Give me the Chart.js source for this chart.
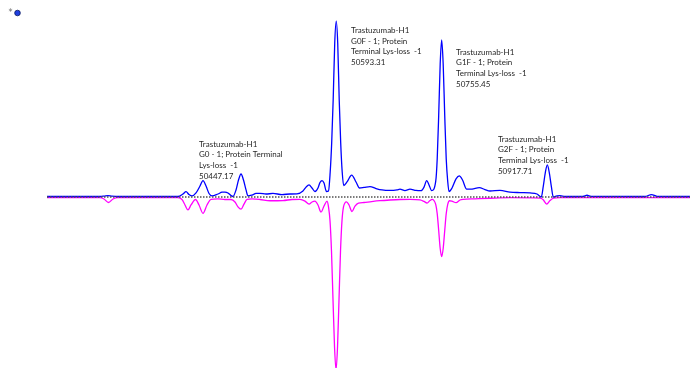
<!DOCTYPE html>
<html>
<head>
<meta charset="utf-8">
<script src="https://cdn.jsdelivr.net/npm/chart.js@4.4.1/dist/chart.umd.min.js"></script>
<style>
  html, body { margin: 0; padding: 0; background: #fff; }
  #wrap { width: 696px; height: 368px; position: relative; }
</style>
</head>
<body>
<div id="wrap"><canvas id="spec" width="696" height="368"></canvas></div>
<script>
// deconvoluted mass (Da) and relative intensity (%) of the upper trace
const upperMass = [
    50150, 50231.6, 50237.8, 50243.9, 50250.1, 50259.3, 50351.7, 50359.4, 50364.1, 50368.7,
    50373.3, 50379.5, 50385.6, 50390.2, 50394.9, 50399.5, 50404.1, 50413.3, 50419.5, 50424.1,
    50428.7, 50433.4, 50436.4, 50441.1, 50444.9, 50448.8, 50452.6, 50456.5, 50459.5, 50465.7,
    50471.9, 50478.0, 50487.3, 50498.0, 50511.9, 50524.2, 50535.0, 50544.2, 50548.9, 50553.5,
    50558.1, 50562.7, 50567.3, 50570.4, 50573.5, 50576.6, 50580.4, 50583.5, 50586.1, 50588.4,
    50590.7, 50593.1, 50595.4, 50597.7, 50600.0, 50602.3, 50604.6, 50606.9, 50612.0, 50619.2,
    50625.9, 50631.3, 50638.2, 50647.4, 50656.7, 50665.9, 50678.2, 50689.0, 50693.6, 50701.3,
    50709.0, 50718.3, 50726.0, 50730.6, 50734.7, 50738.3, 50742.4, 50748.6, 50750.9, 50753.2,
    50755.5, 50757.8, 50760.1, 50762.5, 50764.8, 50767.1, 50769.1, 50773.7, 50779.9, 50784.9,
    50789.9, 50796.3, 50804.5, 50815.7, 50824.5, 50832.2, 50847.6, 50863.0, 50878.4, 50893.8,
    50904.6, 50911.2, 50914.3, 50917.4, 50920.5, 50923.5, 50926.6, 50929.7, 50935.4, 50940.0,
    50947.7, 50975.4, 50981.6, 50987.8, 51070.9, 51080.9, 51089.4, 51140.2,
];
const upperIntensity = [
    0.3, 0.3, 0.5, 0.8, 0.5, 0.3, 0.3, 1.7, 3.0, 1.4,
    0.6, 2.3, 6.2, 9.3, 6.2, 2.0, 0.6, 1.7, 2.7, 2.8,
    2.3, 0.8, 0.3, 4.0, 9.6, 13.0, 9.6, 4.0, 0.6, 1.1,
    2.0, 2.1, 1.7, 2.0, 1.4, 1.7, 1.8, 3.4, 5.6, 6.8,
    5.1, 3.1, 5.1, 8.2, 9.3, 7.9, 3.1, 3.4, 14.1, 30.5,
    54.8, 87.0, 99.4, 87.0, 54.8, 30.5, 14.1, 6.5, 8.5, 12.4,
    8.5, 5.1, 5.4, 5.9, 4.8, 4.0, 3.7, 4.0, 4.4, 3.6,
    4.4, 3.7, 3.6, 5.6, 9.2, 6.8, 3.6, 8.8, 21.5, 46.0,
    75.1, 88.7, 75.1, 46.0, 21.5, 8.8, 3.1, 5.1, 10.2, 11.9,
    9.6, 4.4, 4.5, 5.3, 4.2, 3.4, 3.7, 2.8, 2.5, 2.3,
    1.7, 0.0, 6.2, 13.8, 18.1, 13.8, 6.2, 0.0, 0.7, 0.8,
    0.3, 0.4, 1.0, 0.4, 0.3, 1.4, 0.4, 0.3,
];

// mirrored lower trace
const lowerMass = [
    50150, 50231.6, 50237.8, 50244.7, 50251.6, 50259.3, 50351.7, 50357.9, 50362.5, 50367.1,
    50371.8, 50378.7, 50384.1, 50390.2, 50396.4, 50402.6, 50413.3, 50424.1, 50433.4, 50439.5,
    50444.1, 50448.8, 50453.4, 50458.0, 50465.7, 50478.0, 50493.4, 50513.4, 50527.3, 50539.6,
    50547.3, 50553.5, 50558.1, 50562.7, 50567.3, 50572.0, 50576.6, 50581.2, 50583.5, 50585.8,
    50588.1, 50590.4, 50592.8, 50595.1, 50597.4, 50599.7, 50602.0, 50604.3, 50606.6, 50611.2,
    50615.1, 50619.7, 50624.3, 50629.7, 50638.2, 50647.4, 50662.8, 50678.2, 50693.6, 50709.0,
    50724.4, 50730.6, 50735.2, 50739.8, 50742.9, 50748.6, 50750.9, 50753.2, 50755.5, 50757.8,
    50760.1, 50762.5, 50764.8, 50767.1, 50769.9, 50774.5, 50779.9, 50786.0, 50790.6, 50809.1,
    50832.2, 50863.0, 50909.2, 50913.8, 50919.5, 50924.6, 50930.0, 50940.0, 51140.2,
];
const lowerIntensity = [
    -0.3, -0.3, -1.1, -3.1, -1.1, -0.3, -0.3, -1.4, -4.5, -7.3,
    -4.5, -1.4, -4.5, -9.2, -4.5, -1.4, -1.1, -1.4, -1.4, -2.8,
    -5.6, -6.9, -4.0, -1.4, -1.1, -1.4, -2.1, -2.0, -1.4, -1.3,
    -2.3, -4.0, -2.8, -2.3, -4.5, -8.5, -5.1, -2.3, -5.6, -13.3,
    -30.5, -57.6, -84.7, -97.7, -84.7, -57.6, -30.5, -13.3, -5.6, -2.7,
    -4.5, -8.2, -5.1, -3.4, -3.1, -2.7, -2.1, -1.7, -1.4, -1.3,
    -1.6, -2.5, -3.4, -2.0, -1.3, -4.2, -9.4, -18.9, -29.1, -33.7,
    -29.1, -18.9, -9.4, -4.2, -2.1, -2.5, -3.2, -1.7, -1.3, -1.0,
    -0.7, -0.4, -0.6, -1.4, -4.0, -2.0, -0.6, -0.3, -0.3,
];

const massRange = [50150, 51140.2];
const intensityRange = [-96.6, 100];

// peak annotations: anchor (mass, intensity of first line) and text lines
const peakLabelMass = [50384.1, 50618.2, 50779.9, 50844.5];
const peakLabelIntensity = [29.9, 94.1, 81.9, 32.8];
const peakLabelLines = [
    ['Trastuzumab-H1', 'G0 - 1; Protein Terminal', 'Lys-loss  -1', '50447.17'],
    ['Trastuzumab-H1', 'G0F - 1; Protein', 'Terminal Lys-loss  -1', '50593.31'],
    ['Trastuzumab-H1', 'G1F - 1; Protein', 'Terminal Lys-loss  -1', '50755.45'],
    ['Trastuzumab-H1', 'G2F - 1; Protein', 'Terminal Lys-loss  -1', '50917.71'],
];

const toPoints = (xs, ys) => xs.map((x, i) => ({x, y: ys[i]}));

const peakLabels = {
    id: 'peakLabels',
    afterDatasetsDraw(chart) {
        const {ctx, scales: {x, y}} = chart;
        ctx.save();
        ctx.font = '8px Lato';
        ctx.fillStyle = '#262626';
        ctx.textBaseline = 'middle';
        peakLabelLines.forEach((lines, i) => {
            const px = x.getPixelForValue(peakLabelMass[i]);
            const py = y.getPixelForValue(peakLabelIntensity[i]);
            lines.forEach((t, j) => ctx.fillText(t, px, py + j * 10.7));
        });
        // small marker in the corner
        ctx.fillStyle = '#666';
        ctx.font = '8px "DejaVu Sans"';
        ctx.fillText('*', 8.5, 12.5);
        ctx.beginPath();
        ctx.arc(17.5, 13, 2.8, 0, Math.PI * 2);
        ctx.fillStyle = '#1f3ee0';
        ctx.fill();
        ctx.lineWidth = 0.8;
        ctx.strokeStyle = '#0a1a60';
        ctx.stroke();
        ctx.restore();
    },
};

new Chart(document.getElementById('spec'), {
    type: 'line',
    data: {
        datasets: [
            {
                data: toPoints(upperMass, upperIntensity),
                borderColor: '#0000ff',
                borderWidth: 1.3,
                cubicInterpolationMode: 'monotone',
                pointRadius: 0,
                fill: false,
                order: 2,
            },
            {
                data: toPoints(lowerMass, lowerIntensity),
                borderColor: '#ff00ff',
                borderWidth: 1.3,
                cubicInterpolationMode: 'monotone',
                pointRadius: 0,
                fill: false,
                order: 3,
            },
            {
                data: [{x: massRange[0], y: 0}, {x: massRange[1], y: 0}],
                borderColor: '#505050',
                borderWidth: 1.5,
                borderDash: [1.5, 1.5],
                pointRadius: 0,
                fill: false,
                order: 1,
            },
        ],
    },
    options: {
        responsive: false,
        animation: false,
        devicePixelRatio: 1,
        layout: { padding: { left: 47, right: 6, top: 20, bottom: 0 } },
        scales: {
            x: { type: 'linear', min: massRange[0], max: massRange[1], display: false },
            y: { min: intensityRange[0], max: intensityRange[1], display: false },
        },
        plugins: { legend: { display: false }, tooltip: { enabled: false } },
    },
    plugins: [peakLabels],
});
</script>
</body>
</html>
